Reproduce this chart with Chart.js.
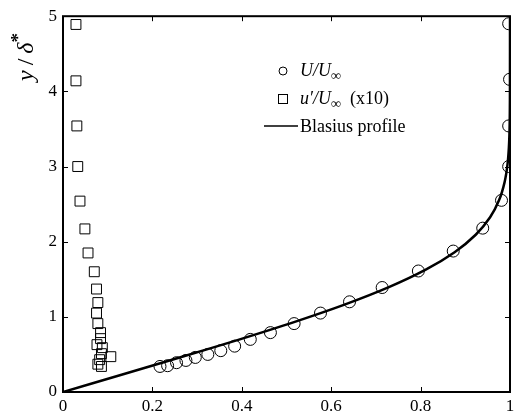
<!DOCTYPE html>
<html>
<head>
<meta charset="utf-8">
<script src="https://cdn.jsdelivr.net/npm/chart.js@4.4.0/dist/chart.umd.min.js"></script>
<style>
  html, body { margin: 0; padding: 0; background: #fff; }
  #wrap { width: 518px; height: 417px; }
</style>
</head>
<body>
<div id="wrap"><canvas id="profileChart" width="518" height="417"></canvas></div>
<script>
// ---- DATA ----
// Mean velocity U/U_inf vs y/delta*
const meanY = [0.34, 0.35, 0.39, 0.42, 0.46, 0.50, 0.55, 0.61, 0.70, 0.79, 0.91, 1.05, 1.20, 1.39, 1.61, 1.875, 2.18, 2.55, 3.00, 3.54, 4.16, 4.90];
const meanU = [0.217, 0.234, 0.254, 0.275, 0.296, 0.324, 0.353, 0.384, 0.419, 0.464, 0.517, 0.576, 0.641, 0.714, 0.795, 0.873, 0.939, 0.981, 0.997, 0.997, 0.999, 0.997];

// Fluctuation u'/U_inf (x10) vs y/delta*
const rmsY = [4.89, 4.14, 3.54, 3.00, 2.54, 2.17, 1.85, 1.60, 1.37, 1.19, 1.05, 0.91, 0.79, 0.71, 0.63, 0.59, 0.51, 0.47, 0.43, 0.37, 0.34];
const rmsU = [0.029, 0.029, 0.031, 0.033, 0.038, 0.049, 0.056, 0.070, 0.075, 0.078, 0.075, 0.078, 0.084, 0.084, 0.076, 0.088, 0.086, 0.107, 0.082, 0.078, 0.086];

// Blasius profile (tabulated)
const blasiusY = [0, 0.2325, 0.4649, 0.6974, 0.9298, 1.1622, 1.3947, 1.6272, 1.8596, 2.0921, 2.3245, 2.5570, 2.7894, 3.0219, 3.2543, 3.4868, 3.7192, 4.068, 5.0];
const blasiusU = [0, 0.1328, 0.2647, 0.3938, 0.5168, 0.6298, 0.7290, 0.8115, 0.8761, 0.9233, 0.9555, 0.9759, 0.9878, 0.9943, 0.9975, 0.9990, 0.9996, 0.9999, 1.0];

// Axis ticks
const xTicks = [0, 0.2, 0.4, 0.6, 0.8, 1];
const yTicks = [0, 1, 2, 3, 4, 5];

const SERIF = "'Liberation Serif', 'DejaVu Serif', serif";

const pts = (xs, ys) => xs.map((x, i) => ({ x: x, y: ys[i] }));

// ---- frame, inward ticks, y title, legend ----
const decorPlugin = {
    id: 'decor',
    afterDraw(chart) {
        const ctx = chart.ctx;
        const a = chart.chartArea;
        const xs = chart.scales.x;
        const ys = chart.scales.y;
        ctx.save();

        // inward tick marks
        ctx.strokeStyle = '#000';
        ctx.lineWidth = 1;
        const tl = 5;
        xTicks.forEach(v => {
            const px = Math.round(xs.getPixelForValue(v)) + 0.5;
            ctx.beginPath();
            ctx.moveTo(px, a.bottom); ctx.lineTo(px, a.bottom - tl);
            ctx.moveTo(px, a.top); ctx.lineTo(px, a.top + tl);
            ctx.stroke();
        });
        yTicks.forEach(v => {
            const py = Math.round(ys.getPixelForValue(v)) + 0.5;
            ctx.beginPath();
            ctx.moveTo(a.left, py); ctx.lineTo(a.left + tl, py);
            ctx.moveTo(a.right, py); ctx.lineTo(a.right - tl, py);
            ctx.stroke();
        });

        // frame
        ctx.lineWidth = 2;
        ctx.strokeRect(a.left, a.top, a.right - a.left, a.bottom - a.top);

        // y axis title: y / δ*
        ctx.fillStyle = '#000';
        ctx.translate(27, 46);
        ctx.rotate(-Math.PI / 2);
        ctx.textBaseline = 'middle';
        ctx.textAlign = 'left';
        let x0 = -35;
        ctx.font = 'italic 24px ' + SERIF;
        ctx.fillText('y', x0, 0);
        x0 += ctx.measureText('y').width + 5;
        ctx.font = '24px ' + SERIF;
        ctx.fillText('/', x0, 0);
        x0 += ctx.measureText('/').width + 5;
        ctx.font = 'italic 24px ' + SERIF;
        ctx.fillText('δ', x0, 0);
        x0 += ctx.measureText('δ').width;
        ctx.font = 'bold 19px ' + SERIF;
        ctx.fillText('*', x0, -8);
        ctx.setTransform(1, 0, 0, 1, 0, 0);

        // legend
        ctx.strokeStyle = '#000';
        ctx.fillStyle = '#000';
        ctx.textBaseline = 'alphabetic';
        ctx.lineWidth = 1;
        const mx = 283;
        const tx = 300;
        const rows = [76, 104, 132];

        ctx.beginPath();
        ctx.arc(mx, rows[0] - 5, 4, 0, Math.PI * 2);
        ctx.stroke();
        let cx = tx;
        ctx.font = 'italic 18px ' + SERIF;
        ctx.fillText('U/U', cx, rows[0]);
        cx += ctx.measureText('U/U').width;
        ctx.font = 'bold 14px ' + SERIF;
        ctx.fillText('∞', cx, rows[0] + 4);

        ctx.strokeRect(mx - 4.5, rows[1] - 9.5, 9, 9);
        cx = tx;
        ctx.font = 'italic 18px ' + SERIF;
        ctx.fillText('u′/U', cx, rows[1]);
        cx += ctx.measureText('u′/U').width;
        ctx.font = 'bold 14px ' + SERIF;
        ctx.fillText('∞', cx, rows[1] + 4);
        cx += ctx.measureText('∞').width + 9;
        ctx.font = '18px ' + SERIF;
        ctx.fillText('(x10)', cx, rows[1]);

        ctx.lineWidth = 1.5;
        ctx.beginPath();
        ctx.moveTo(264, rows[2] - 6); ctx.lineTo(298, rows[2] - 6);
        ctx.stroke();
        ctx.font = '18px ' + SERIF;
        ctx.fillText('Blasius profile', tx, rows[2]);

        ctx.restore();
    }
};

new Chart(document.getElementById('profileChart'), {
    type: 'scatter',
    data: {
        datasets: [
            {
                label: 'Blasius profile',
                data: pts(blasiusU, blasiusY),
                showLine: true,
                borderColor: '#000',
                borderWidth: 2.5,
                pointRadius: 0,
                tension: 0.35,
                fill: false
            },
            {
                label: 'U/U∞',
                data: pts(meanU, meanY),
                pointStyle: 'circle',
                pointRadius: 6,
                borderColor: '#000',
                borderWidth: 1,
                backgroundColor: 'rgba(0,0,0,0)'
            },
            {
                label: "u'/U∞ (x10)",
                data: pts(rmsU, rmsY),
                pointStyle: 'rect',
                pointRadius: 7,
                borderColor: '#000',
                borderWidth: 1,
                backgroundColor: 'rgba(0,0,0,0)'
            }
        ]
    },
    options: {
        responsive: false,
        animation: false,
        devicePixelRatio: 1,
        layout: { padding: { left: 0, right: 5, top: 16, bottom: 0 } },
        plugins: {
            legend: { display: false },
            tooltip: { enabled: false }
        },
        scales: {
            x: {
                type: 'linear',
                min: 0,
                max: 1,
                grid: { display: false, drawTicks: false },
                border: { display: false },
                afterFit: s => { s.height = 25; s.paddingRight = 0; s.paddingLeft = 0; },
                afterBuildTicks: s => { s.ticks = xTicks.map(v => ({ value: v })); },
                ticks: {
                    color: '#000',
                    padding: 4,
                    font: { family: SERIF, size: 17 },
                    callback: v => String(v)
                }
            },
            y: {
                type: 'linear',
                min: 0,
                max: 5,
                grid: { display: false, drawTicks: false },
                border: { display: false },
                afterFit: s => { s.width = 63; },
                afterBuildTicks: s => { s.ticks = yTicks.map(v => ({ value: v })); },
                ticks: {
                    color: '#000',
                    padding: 6,
                    font: { family: SERIF, size: 17 },
                    callback: v => String(v)
                }
            }
        }
    },
    plugins: [decorPlugin]
});
</script>
</body>
</html>
